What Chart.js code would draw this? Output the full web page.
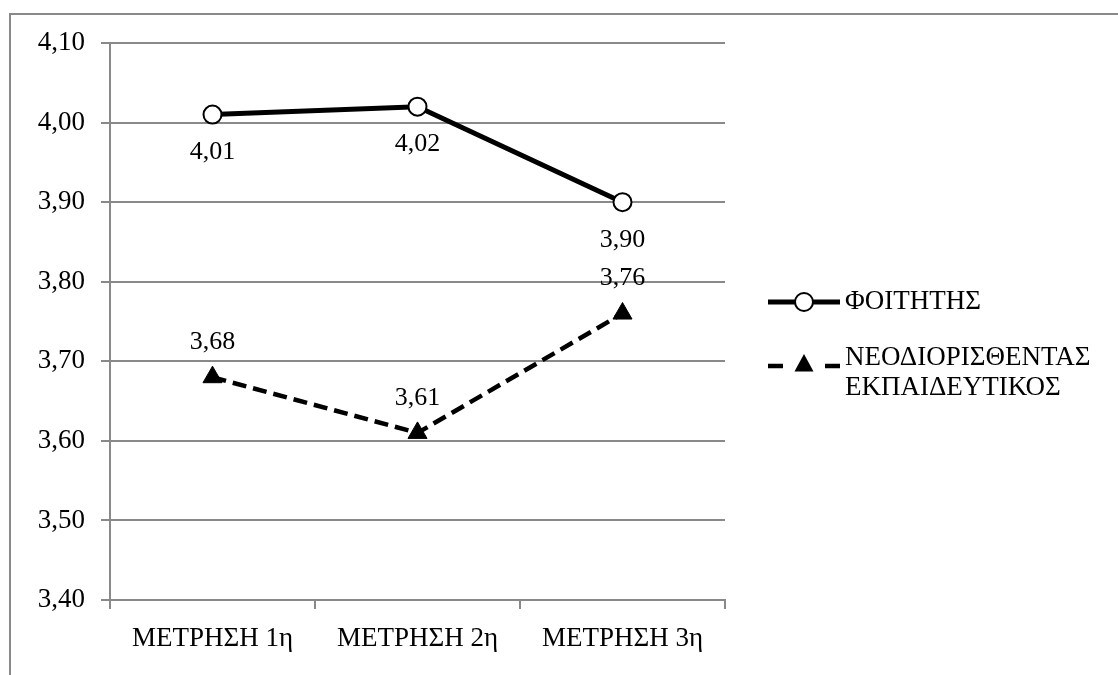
<!DOCTYPE html>
<html><head><meta charset="utf-8">
<script src="https://cdn.jsdelivr.net/npm/chart.js@4/dist/chart.umd.min.js"></script>
<style>html,body{margin:0;padding:0;background:#fff}#wrap{width:1118px;height:675px;position:relative}</style>
</head><body><div id="wrap"><canvas id="c" width="1118" height="675"></canvas></div>
<script>
const categories = ['ΜΕΤΡΗΣΗ 1η', 'ΜΕΤΡΗΣΗ 2η', 'ΜΕΤΡΗΣΗ 3η'];
const studentLabel = 'ΦΟΙΤΗΤΗΣ';
const studentValues = [4.01, 4.02, 3.90];
const teacherLabel = ['ΝΕΟΔΙΟΡΙΣΘΕΝΤΑΣ', 'ΕΚΠΑΙΔΕΥΤΙΚΟΣ'];
const teacherValues = [3.68, 3.61, 3.76];
const yMin = 3.4, yMax = 4.1, yStep = 0.1;

const FONT = '"Liberation Serif", "Times New Roman", serif';
const GRID = '#898989';
const fmt = v => v.toFixed(2).replace('.', ',');

const frame = {
  id: 'frame',
  beforeDraw(chart) {
    const c = chart.ctx;
    c.save();
    c.fillStyle = '#fff';
    c.fillRect(0, 0, chart.width, chart.height);
    c.strokeStyle = GRID; c.lineWidth = 2;
    c.strokeRect(10, 14, chart.width + 20, chart.height + 20);
    c.restore();
  }
};

const labelsPlugin = {
  id: 'dlabels',
  afterDatasetsDraw(chart) {
    const c = chart.ctx;
    c.save();
    c.font = '26px ' + FONT;
    c.fillStyle = '#000';
    c.textAlign = 'center';
    c.textBaseline = 'middle';
    chart.data.datasets.forEach((ds, i) => {
      const meta = chart.getDatasetMeta(i);
      meta.data.forEach((pt, j) => {
        const off = ds.labelPos === 'below' ? 38 : -35;
        c.fillText(fmt(ds.data[j]), pt.x, pt.y + off);
      });
    });
    c.restore();
  }
};

function triangle(c, x, y, r) {
  c.beginPath();
  c.moveTo(x, y - r);
  c.lineTo(x + r * 0.866, y + r * 0.6);
  c.lineTo(x - r * 0.866, y + r * 0.6);
  c.closePath();
  c.fill();
}

const legendPlugin = {
  id: 'clegend',
  afterDraw(chart) {
    const c = chart.ctx;
    const x0 = 768, x1 = 840, tx = 845;
    const rows = [302, 366];
    c.save();
    chart.data.datasets.forEach((ds, i) => {
      const y = rows[i];
      const mx = (x0 + x1) / 2;
      c.strokeStyle = ds.borderColor;
      c.lineWidth = ds.borderWidth;
      c.lineCap = 'butt';
      if (ds.borderDash) {
        c.beginPath(); c.moveTo(x0, y); c.lineTo(x0 + ds.borderDash[0] + 1, y);
        c.moveTo(x1 - ds.borderDash[0] - 1, y); c.lineTo(x1, y); c.stroke();
      } else {
        c.beginPath(); c.moveTo(x0, y); c.lineTo(x1, y); c.stroke();
      }
      if (ds.pointStyle === 'circle') {
        c.beginPath(); c.arc(mx, y, ds.pointRadius, 0, Math.PI * 2);
        c.fillStyle = ds.pointBackgroundColor; c.fill();
        c.lineWidth = ds.pointBorderWidth; c.strokeStyle = ds.pointBorderColor; c.stroke();
      } else {
        c.fillStyle = ds.pointBackgroundColor;
        triangle(c, mx, y - 1, ds.pointRadius);
      }
      c.fillStyle = '#000';
      c.textAlign = 'left'; c.textBaseline = 'middle';
      const lines = Array.isArray(ds.label) ? ds.label : [ds.label];
      const lh = 30;
      c.font = '27px ' + FONT;
      const start = lines.length > 1 ? y - 8 : y;
      lines.forEach((t, k) => c.fillText(t, tx, start + k * lh));
    });
    c.restore();
  }
};

new Chart(document.getElementById('c'), {
  type: 'line',
  data: {
    labels: categories,
    datasets: [
      {
        label: studentLabel, data: studentValues,
        borderColor: '#000', borderWidth: 5,
        pointStyle: 'circle', pointRadius: 9, pointBackgroundColor: '#fff',
        pointBorderColor: '#000', pointBorderWidth: 2, labelPos: 'below'
      },
      {
        label: teacherLabel, data: teacherValues,
        borderColor: '#000', borderWidth: 4.5, borderDash: [14, 7],
        pointStyle: 'triangle', pointRadius: 11, pointBackgroundColor: '#000',
        pointBorderColor: '#000', pointBorderWidth: 1, labelPos: 'above'
      }
    ]
  },
  options: {
    responsive: false, animation: false,
    layout: { padding: { left: 10, top: 43, right: 393, bottom: 0 } },
    plugins: { legend: { display: false }, tooltip: { enabled: false } },
    scales: {
      x: {
        offset: true,
        grid: { offset: true, drawOnChartArea: false, color: GRID, lineWidth: 2, tickLength: 9 },
        border: { color: GRID, width: 2 },
        ticks: { font: { family: FONT, size: 27 }, color: '#000', padding: 14 },
        afterFit(s) { s.height = 75; }
      },
      y: {
        min: yMin, max: yMax,
        grid: { color: GRID, lineWidth: 2, tickLength: 9 },
        border: { color: GRID, width: 2 },
        ticks: { stepSize: yStep, font: { family: FONT, size: 27 }, color: '#000', padding: 16,
                 callback: v => fmt(v) },
        afterFit(s) { s.width = 100; }
      }
    }
  },
  plugins: [frame, labelsPlugin, legendPlugin]
});
</script></body></html>
